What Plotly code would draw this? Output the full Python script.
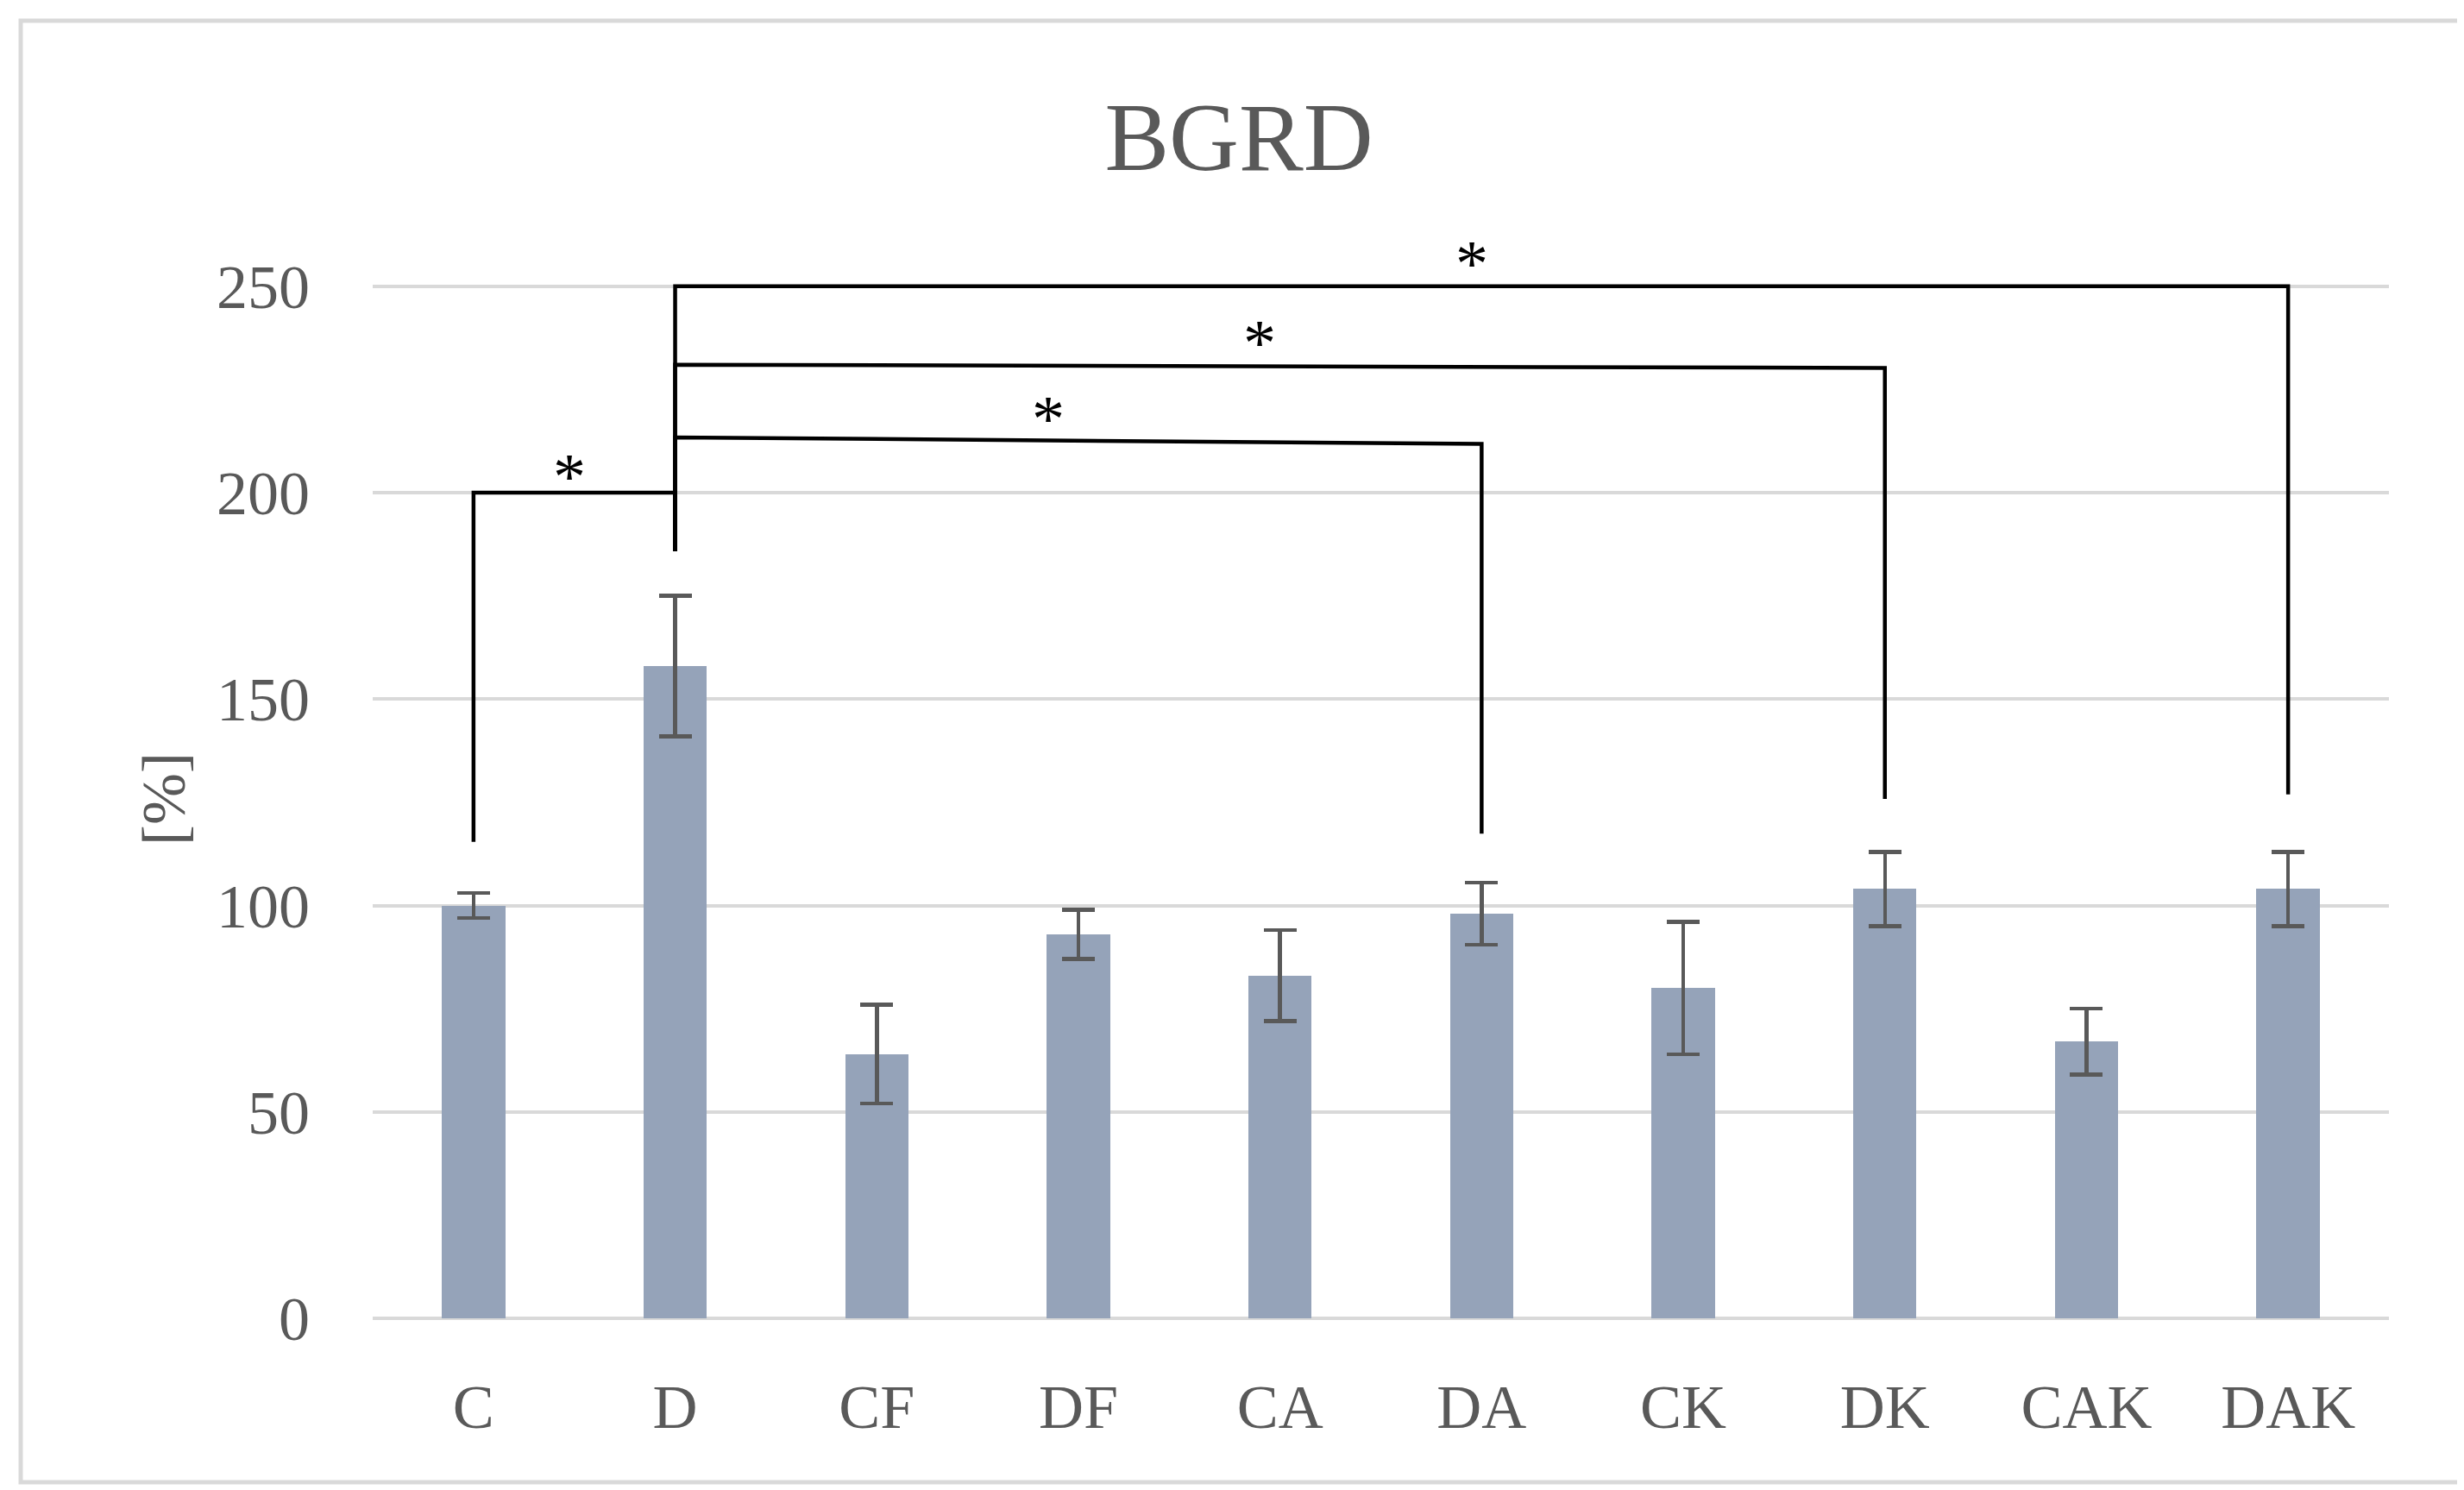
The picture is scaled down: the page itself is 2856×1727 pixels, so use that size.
import plotly.graph_objects as go

# ---- data ----
categories = ["C", "D", "CF", "DF", "CA", "DA", "CK", "DK", "CAK", "DAK"]
values = [100, 158, 64, 93, 83, 98, 80, 104, 67, 104]
errors = [3, 17, 12, 6, 11, 7.5, 16, 9, 8, 9]
y_ticks = [0, 50, 100, 150, 200, 250]

# significance brackets: (left idx, right idx, height at left, height at right, left leg bottom, right leg bottom)
bracket_left = [0, 1, 1, 1]
bracket_right = [1, 5, 7, 9]
bracket_h_left = [200, 213.4, 231, 250]
bracket_h_right = [200, 211.8, 230.2, 250]
bracket_leg_left = [115.4, 185.8, 185.8, 185.8]
bracket_leg_right = [185.8, 117.4, 125.8, 126.9]
star_x = [0.476, 2.85, 3.9, 4.95]
star_y = [207, 221, 239.3, 258.5]

# ---- layout geometry ----
W, H = 2856, 1727
ML, MR, MT, MB = 424, 95, 252, 207
YMAX = 265
FONT = "Liberation Serif"
TXT = "#595959"
GRID = "#D9D9D9"

x_idx = list(range(len(categories)))

fig = go.Figure()
fig.add_trace(go.Bar(
    x=x_idx, y=values, width=0.314,
    marker=dict(color="#95A3B9", line=dict(width=0)),
    error_y=dict(type="data", array=errors, visible=True,
                 color=TXT, thickness=4.5, width=19),
    showlegend=False,
))

shapes = []
for i in range(len(bracket_left)):
    xl, xr = bracket_left[i], bracket_right[i]
    path = (f"M {xl} {bracket_leg_left[i]} L {xl} {bracket_h_left[i]} "
            f"L {xr} {bracket_h_right[i]} L {xr} {bracket_leg_right[i]}")
    shapes.append(dict(type="path", xref="x", yref="y", path=path,
                       line=dict(color="black", width=4.5), layer="above"))

# outer light border (pixel -> paper coords)
pw = W - ML - MR
ph = H - MT - MB
def px2paper_x(px):
    return (px - ML) / pw
def py2paper_y(py):
    return (H - MB - py) / ph
shapes.append(dict(type="rect", xref="paper", yref="paper",
                   x0=px2paper_x(16), x1=px2paper_x(2845),
                   y0=py2paper_y(1710), y1=py2paper_y(16),
                   line=dict(color=GRID, width=5), fillcolor="rgba(0,0,0,0)",
                   layer="below"))

annotations = []
for sx, sy in zip(star_x, star_y):
    annotations.append(dict(x=sx, y=sy, xref="x", yref="y", text="*",
                            showarrow=False, yshift=-14,
                            font=dict(family=FONT, size=76, color="black")))
annotations.append(dict(x=px2paper_x(182), y=py2paper_y(918), xref="paper", yref="paper",
                        xanchor="center", yanchor="middle",
                        text="[%]", textangle=-90, showarrow=False,
                        font=dict(family=FONT, size=72, color=TXT)))

fig.update_layout(
    width=W, height=H,
    margin=dict(l=ML, r=MR, t=MT, b=MB, pad=0),
    paper_bgcolor="white", plot_bgcolor="white",
    title=dict(text="BGRD", x=0.5, xanchor="center", xref="container",
               y=1 - 150 / H, yanchor="middle", yref="container",
               font=dict(family=FONT, size=112, color=TXT)),
    shapes=shapes, annotations=annotations,
    bargap=0,
)
fig.update_xaxes(
    range=[-0.5, 9.5], tickvals=x_idx, ticktext=categories,
    showgrid=False, zeroline=False, showline=False, ticks="",
    tickfont=dict(family=FONT, size=72, color=TXT),
    ticklabelstandoff=54,
)
fig.update_yaxes(
    range=[0, YMAX], tickvals=y_ticks, ticktext=[str(v) for v in y_ticks],
    showgrid=True, gridcolor=GRID, gridwidth=4,
    zeroline=True, zerolinecolor=GRID, zerolinewidth=4,
    showline=False, ticks="",
    tickfont=dict(family=FONT, size=72, color=TXT),
    ticklabelstandoff=72,
)

fig.write_html("out.html")
